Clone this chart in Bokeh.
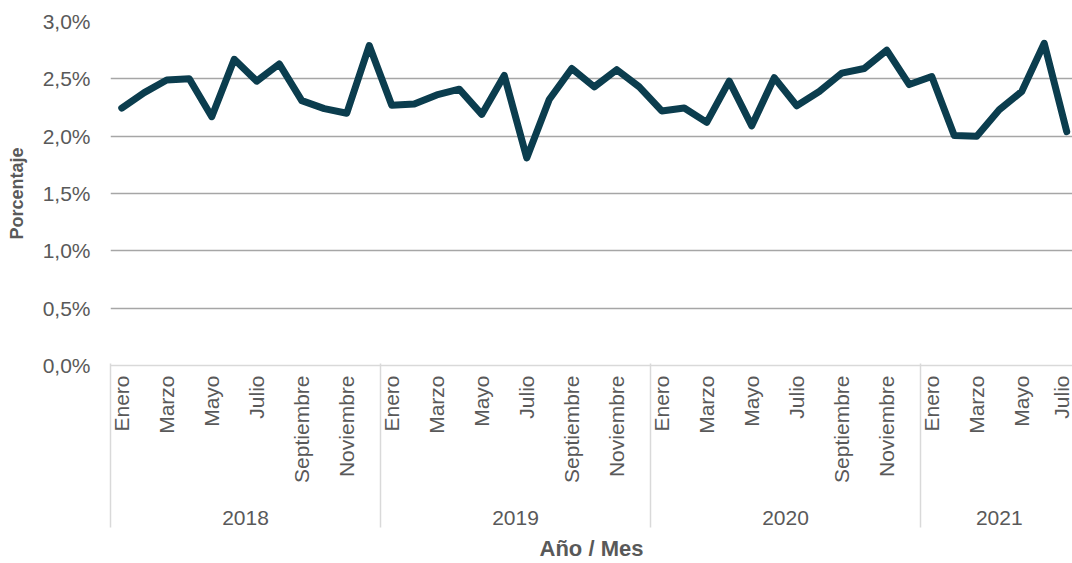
import math
from bokeh.plotting import figure
from bokeh.models import (LinearAxis, FixedTicker, CustomJSTickFormatter, Range1d,
                          ColumnDataSource, Grid)
from bokeh.embed import file_html
from bokeh.resources import INLINE

years = ["2018", "2019", "2020", "2021"]
months = ["Enero", "Febrero", "Marzo", "Abril", "Mayo", "Junio", "Julio",
          "Agosto", "Septiembre", "Octubre", "Noviembre", "Diciembre"]
values_2018 = [2.245, 2.38, 2.49, 2.50, 2.17, 2.67, 2.48, 2.63, 2.31, 2.24, 2.20, 2.79]
values_2019 = [2.27, 2.28, 2.36, 2.41, 2.19, 2.53, 1.81, 2.32, 2.59, 2.43, 2.58, 2.43]
values_2020 = [2.22, 2.245, 2.12, 2.48, 2.09, 2.51, 2.265, 2.39, 2.55, 2.59, 2.75, 2.45]
values_2021 = [2.52, 2.005, 2.00, 2.23, 2.39, 2.81, 2.04]
y_ticks = [0.0, 0.5, 1.0, 1.5, 2.0, 2.5, 3.0]

values = values_2018 + values_2019 + values_2020 + values_2021
n = len(values)
xs = list(range(n))
year_lengths = [len(values_2018), len(values_2019), len(values_2020), len(values_2021)]

month_labels = {i: months[i % 12] for i in range(0, n, 2)}
year_starts = []
year_labels = {}
start = 0
for yname, ln in zip(years, year_lengths):
    year_starts.append(start - 0.5)
    year_labels[(start + start + ln - 1) / 2] = yname
    start += ln

GRAY_TXT = "#595959"
SEP = "#d9d9d9"
FONT = "Liberation Sans"

src = ColumnDataSource(dict(x=xs, y=values))

p = figure(width=1072, height=563, output_backend="svg", toolbar_location=None,
           x_range=Range1d(-0.5, 42.256), y_range=Range1d(0, 3.0),
           min_border_left=110, min_border_right=0, min_border_top=21,
           min_border_bottom=195, x_axis_type=None, y_axis_type=None)
p.outline_line_color = None
p.background_fill_color = "white"
p.border_fill_color = "white"

grid = Grid(dimension=1, ticker=FixedTicker(ticks=y_ticks[1:]),
            grid_line_color="#a6a6a6", grid_line_width=1.4)
p.add_layout(grid)

yaxis = LinearAxis(
    ticker=FixedTicker(ticks=y_ticks),
    formatter=CustomJSTickFormatter(code="return tick.toFixed(1).replace('.', ',') + '%';"),
    axis_label="Porcentaje",
    axis_line_color=None, major_tick_line_color=None, minor_tick_line_color=None,
    major_tick_out=0, major_tick_in=0,
    major_label_standoff=20,
    major_label_text_font=FONT, major_label_text_font_size="21px",
    major_label_text_color=GRAY_TXT,
    axis_label_text_font=FONT, axis_label_text_font_size="18px",
    axis_label_text_font_style="bold", axis_label_text_color=GRAY_TXT,
    axis_label_standoff=13,
)
p.add_layout(yaxis, "left")

# month level
mxaxis = LinearAxis(
    ticker=FixedTicker(ticks=list(month_labels.keys())),
    major_label_overrides=month_labels,
    major_label_orientation=math.pi / 2,
    major_tick_line_color=None, minor_tick_line_color=None,
    major_tick_out=0, major_tick_in=0, minor_tick_out=0, minor_tick_in=0,
    axis_line_color=SEP, axis_line_width=1.5,
    major_label_standoff=10,
    major_label_text_font=FONT, major_label_text_font_size="21px",
    major_label_text_color=GRAY_TXT,
)
p.add_layout(mxaxis, "below")

# year level
yraxis = LinearAxis(
    ticker=FixedTicker(ticks=list(year_labels.keys())),
    major_label_overrides=year_labels,
    axis_line_color=None, major_tick_line_color=None, minor_tick_line_color=None,
    major_tick_out=0, major_tick_in=0, minor_tick_out=0, minor_tick_in=0,
    major_label_standoff=25,
    major_label_text_font=FONT, major_label_text_font_size="21px",
    major_label_text_color=GRAY_TXT,
)
p.add_layout(yraxis, "below")

# group separators + axis title
sepaxis = LinearAxis(
    ticker=FixedTicker(ticks=[], minor_ticks=year_starts),
    axis_line_color=None, major_tick_line_color=None,
    major_tick_out=0, major_tick_in=0, minor_tick_out=0, minor_tick_in=164,
    minor_tick_line_color=SEP, minor_tick_line_width=1.5,
    major_label_standoff=0,
    axis_label="Año / Mes",
    axis_label_text_font=FONT, axis_label_text_font_size="22px",
    axis_label_text_font_style="bold", axis_label_text_color=GRAY_TXT,
    axis_label_standoff=8,
)
p.add_layout(sepaxis, "below")

p.line("x", "y", source=src, line_color="#0b3d4e", line_width=7,
       line_join="round", line_cap="round")

open("out.html", "w").write(file_html(p, INLINE))
